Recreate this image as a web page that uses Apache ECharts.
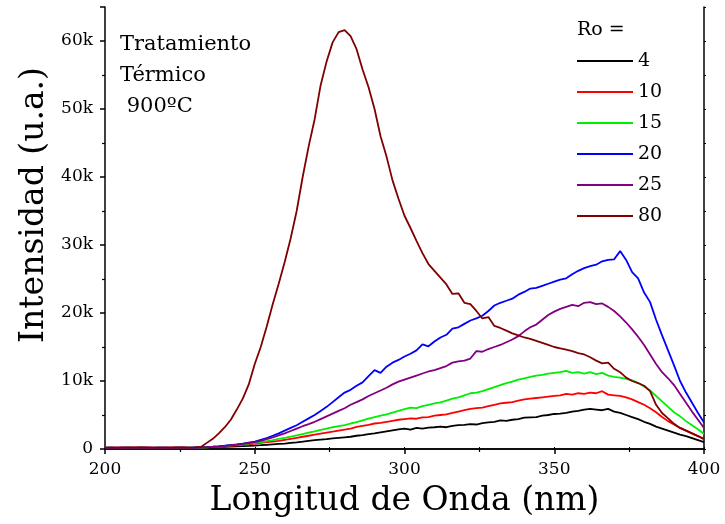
<!DOCTYPE html>
<html>
<head>
<meta charset="utf-8">
<script src="https://cdn.jsdelivr.net/npm/echarts@6/dist/echarts.min.js"></script>
<style>
  html, body { margin: 0; padding: 0; background: #fff; }
  #chart { width: 725px; height: 524px; }
</style>
</head>
<body>
<div id="chart"></div>
<script>
// longitud de onda (nm), paso 2 nm
const wavelengths = [
  200, 202, 204, 206, 208, 210, 212, 214, 216, 218, 220, 222, 224, 226, 228, 230,
  232, 234, 236, 238, 240, 242, 244, 246, 248, 250, 252, 254, 256, 258, 260,
  262, 264, 266, 268, 270, 272, 274, 276, 278, 280, 282, 284, 286, 288, 290,
  292, 294, 296, 298, 300, 302, 304, 306, 308, 310, 312, 314, 316, 318, 320,
  322, 324, 326, 328, 330, 332, 334, 336, 338, 340, 342, 344, 346, 348, 350,
  352, 354, 356, 358, 360, 362, 364, 366, 368, 370, 372, 374, 376, 378, 380,
  382, 384, 386, 388, 390, 392, 394, 396, 398, 400
]

// Ro = 4
const ro4 = [
  150, 160, 140, 170, 150, 160, 150, 140, 160, 170, 150, 160, 150, 170, 160, 180,
  190, 210, 240, 270, 300, 340, 380, 420, 460, 510, 560, 620, 680, 740, 800,
  900, 980, 1080, 1200, 1300, 1380, 1450, 1560, 1640, 1720, 1800, 1950, 2050, 2200, 2300,
  2450, 2600, 2750, 2900, 3000, 2850, 3100, 3000, 3150, 3200, 3300, 3200, 3400, 3500, 3550,
  3650, 3600, 3800, 3900, 4000, 4200, 4150, 4300, 4400, 4600, 4650, 4700, 4900, 5000, 5150,
  5200, 5300, 5500, 5600, 5800, 5900, 5800, 5700, 5900, 5500, 5300, 5000, 4700, 4400, 4000,
  3700, 3300, 3000, 2700, 2400, 2100, 1900, 1600, 1300, 1000
]
// Ro = 10
const ro10 = [
  200, 180, 210, 190, 200, 220, 190, 200, 210, 180, 200, 190, 210, 200, 190, 210,
  220, 250, 290, 340, 400, 460, 530, 610, 700, 800, 900, 1000, 1100, 1200, 1350,
  1500, 1650, 1800, 1950, 2100, 2250, 2400, 2550, 2700, 2850, 3000, 3250, 3400, 3550, 3750,
  3850, 4000, 4150, 4300, 4400, 4500, 4450, 4650, 4700, 4900, 5000, 5100, 5300, 5500, 5700,
  5900, 6000, 6100, 6300, 6500, 6700, 6800, 6900, 7100, 7300, 7400, 7500, 7600, 7700, 7800,
  7900, 8100, 8000, 8200, 8100, 8300, 8200, 8500, 8000, 7900, 7800, 7600, 7300, 6900, 6500,
  6000, 5400, 4700, 4100, 3600, 3100, 2700, 2300, 1900, 1400
]
// Ro = 15
const ro15 = [
  170, 190, 160, 180, 200, 170, 190, 180, 160, 190, 180, 170, 190, 180, 200, 190,
  220, 260, 310, 370, 440, 520, 600, 690, 790, 900, 1030, 1170, 1320, 1480, 1650,
  1820, 2000, 2200, 2400, 2600, 2800, 3000, 3200, 3350, 3500, 3750, 3950, 4200, 4450, 4700,
  4900, 5100, 5350, 5600, 5850, 6100, 6000, 6300, 6500, 6700, 6850, 7100, 7400, 7600, 7900,
  8200, 8300, 8500, 8800, 9100, 9400, 9700, 9900, 10200, 10400, 10600, 10800, 10900, 11100, 11200,
  11300, 11500, 11200, 11300, 11100, 11300, 11000, 11200, 10800, 10600, 10500, 10300, 10100, 9700, 9200,
  8600, 7800, 7000, 6200, 5400, 4800, 4100, 3500, 2900, 2200
]
// Ro = 20
const ro20 = [
  180, 200, 170, 190, 210, 180, 200, 190, 170, 200, 190, 180, 200, 190, 210, 220,
  250, 290, 340, 400, 480, 580, 680, 800, 950, 1100, 1350, 1600, 1950, 2300, 2700,
  3100, 3500, 4000, 4500, 5000, 5600, 6200, 6900, 7600, 8300, 8700, 9300, 9800, 10700, 11600,
  11200, 12100, 12700, 13100, 13600, 14000, 14500, 15400, 15100, 15800, 16400, 16800, 17700, 17900, 18400,
  18900, 19200, 19600, 20300, 21100, 21500, 21800, 22100, 22700, 23100, 23600, 23700, 24000, 24300, 24600,
  24900, 25100, 25700, 26200, 26600, 26900, 27100, 27600, 27800, 27900, 29100, 27800, 26000, 25100, 23000,
  21600, 19000, 16700, 14500, 12300, 10000, 8300, 6800, 5300, 3900
]
// Ro = 25
const ro25 = [
  190, 170, 200, 180, 170, 190, 200, 180, 190, 170, 200, 180, 190, 200, 180, 210,
  240, 280, 330, 390, 460, 550, 650, 760, 880, 1000, 1200, 1450, 1700, 2000, 2300,
  2650, 3000, 3350, 3650, 4000, 4400, 4800, 5200, 5600, 6000, 6500, 6900, 7300, 7800, 8200,
  8600, 9000, 9500, 9900, 10200, 10500, 10800, 11100, 11400, 11600, 11900, 12200, 12700, 12900, 13000,
  13300, 14400, 14300, 14700, 15000, 15300, 15700, 16100, 16600, 17300, 17900, 18300, 19000, 19700, 20200,
  20600, 20900, 21200, 21000, 21500, 21600, 21300, 21400, 20900, 20300, 19500, 18600, 17600, 16500, 15300,
  13900, 12500, 11300, 10400, 9400, 8100, 6800, 5500, 4300, 3100
]
// Ro = 80
const ro80 = [
  210, 230, 200, 220, 240, 210, 230, 220, 200, 230, 210, 240, 220, 230, 210, 230,
  300, 900, 1500, 2300, 3200, 4300, 5800, 7400, 9500, 12500, 15000, 18000, 21300, 24300, 27500,
  31000, 35000, 40000, 44500, 48500, 53500, 57000, 59800, 61300, 61600, 60700, 58800, 55800, 53200, 50000,
  46000, 43000, 39500, 36800, 34300, 32500, 30600, 28800, 27200, 26200, 25200, 24200, 22800, 22900, 21500,
  21300, 20300, 19200, 19400, 18100, 17800, 17400, 17000, 16700, 16400, 16200, 15900, 15600, 15300, 15000,
  14800, 14600, 14400, 14100, 13900, 13500, 13000, 12600, 12700, 11800, 11300, 10500, 10000, 9700, 9300,
  8500, 6500, 5300, 4500, 3700, 3100, 2700, 2300, 1900, 1500
]

const seriesNames = ['4', '10', '15', '20', '25', '80']
const seriesData = [ro4, ro10, ro15, ro20, ro25, ro80]
const colors = ['#000000', '#ff0000', '#00ee00', '#0000ff', '#800080', '#800000']

const font = '"DejaVu Serif", serif'

const chart = echarts.init(document.getElementById('chart'))

const series = seriesData.map((vals, i) => {
  return {
    name: seriesNames[i],
    type: 'line',
    data: wavelengths.map((w, j) => [w, vals[j]]),
    showSymbol: false,
    symbol: 'none',
    lineStyle: { width: 1.8, color: colors[i] },
    itemStyle: { color: colors[i] },
    xAxisIndex: 0,
    yAxisIndex: 0,
  }
})

const options = {
  animation: false,
  backgroundColor: '#fff',
  grid: {
    left: 105,
    right: 21,
    top: 7,
    bottom: 75,
    outerBoundsMode: 'none',
  },
  xAxis: [{
    type: 'value',
    min: 200,
    max: 400,
    interval: 50,
    name: 'Longitud de Onda (nm)',
    nameLocation: 'middle',
    nameGap: 36,
    nameTextStyle: { fontFamily: font, fontSize: 33, color: '#000' },
    axisLine: { show: true, lineStyle: { color: '#000', width: 1.5 } },
    axisTick: { show: true, length: 5, lineStyle: { color: '#000', width: 1.5 } },
    minorTick: { show: true, splitNumber: 2, length: 3, lineStyle: { color: '#000', width: 1.2 } },
    axisLabel: { fontFamily: font, fontSize: 17, color: '#000', margin: 12 },
    splitLine: { show: false },
  }, {
    type: 'value',
    position: 'top',
    min: 200,
    max: 400,
    interval: 50,
    axisLine: { show: true, lineStyle: { color: '#000', width: 1.5 } },
    axisTick: { show: true, length: 2, lineStyle: { color: '#000' } },
    minorTick: { show: true, splitNumber: 2, length: 2, lineStyle: { color: '#000' } },
    axisLabel: { show: false },
    splitLine: { show: false },
  }],
  yAxis: [{
    type: 'value',
    min: 0,
    max: 65000,
    interval: 10000,
    axisLine: { show: true, lineStyle: { color: '#000', width: 1.5 } },
    axisTick: { show: true, length: 5, lineStyle: { color: '#000', width: 1.5 } },
    minorTick: { show: true, splitNumber: 2, length: 3, lineStyle: { color: '#000', width: 1.2 } },
    axisLabel: {
      fontFamily: font,
      fontSize: 17,
      color: '#000',
      margin: 12,
      showMaxLabel: false,
      formatter: v => (v === 0 ? '0' : v / 1000 + 'k'),
    },
    splitLine: { show: false },
  }, {
    type: 'value',
    position: 'right',
    min: 0,
    max: 65000,
    interval: 10000,
    axisLine: { show: true, lineStyle: { color: '#000', width: 1.5 } },
    axisTick: { show: true, length: 2, lineStyle: { color: '#000' } },
    minorTick: { show: true, splitNumber: 2, length: 2, lineStyle: { color: '#000' } },
    axisLabel: { show: false },
    splitLine: { show: false },
  }],
  legend: {
    orient: 'vertical',
    left: 577,
    top: 48,
    padding: 0,
    itemWidth: 56,
    itemHeight: 2,
    itemGap: 5,
    icon: 'rect',
    data: seriesNames,
    textStyle: { fontFamily: font, fontSize: 19, color: '#000', lineHeight: 22, padding: [4, 0, 0, 0] },
  },
  graphic: [{
    type: 'text',
    left: 577,
    top: 21,
    style: { text: 'Ro =', font: '19px ' + font, fill: '#000' },
  }, {
    type: 'text',
    left: 120,
    top: 29,
    style: {
      text: 'Tratamiento\nTérmico\n 900ºC',
      font: '21px ' + font,
      lineHeight: 31,
      fill: '#000',
    },
  }, {
    // título del eje y
    type: 'text',
    x: 34,
    y: 205,
    rotation: Math.PI / 2,
    style: {
      text: 'Intensidad (u.a.)',
      font: '33px ' + font,
      fill: '#000',
      align: 'center',
      verticalAlign: 'middle',
    },
  }],
  series: series,
}

chart.setOption(options)
</script>
</body>
</html>
